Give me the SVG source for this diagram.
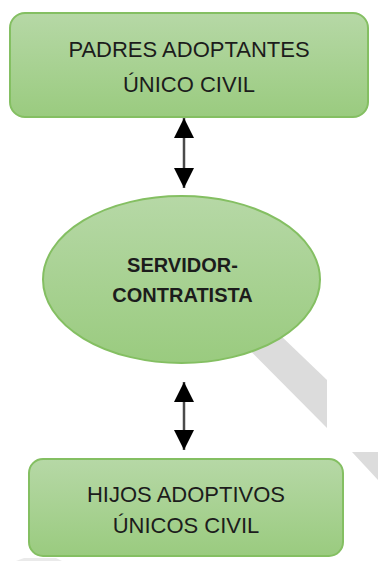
<svg xmlns="http://www.w3.org/2000/svg" width="378" height="561" viewBox="0 0 378 561">
  <defs>
    <linearGradient id="g" x1="0" y1="0" x2="0" y2="1">
      <stop offset="0" stop-color="#b6d8a6"/>
      <stop offset="1" stop-color="#9acb7f"/>
    </linearGradient>
    <marker id="ah" markerUnits="userSpaceOnUse" markerWidth="20" markerHeight="20" viewBox="0 0 20 20" refX="20" refY="10" orient="auto-start-reverse">
      <path d="M0,0 L20,10 L0,20 Z" fill="#000"/>
    </marker>
    <style>
      .shape { fill: url(#g); stroke: #84bf62; stroke-width: 2; }
      .lbl { font-family: "Liberation Sans", Arial, sans-serif; font-size: 22px; fill: #1c1c1c; text-anchor: middle; }
      .bold { font-weight: bold; font-size: 20px; }
      .conn { stroke: #4a4a4a; stroke-width: 2.5; fill: none; marker-start: url(#ah); marker-end: url(#ah); }
      .wm { fill: #dcdcdc; }
    </style>
  </defs>
  <rect width="378" height="561" fill="#fff"/>
  <g id="watermark">
    <polygon class="wm" points="233,290 327,380 327,428 190,290"/>
    <polygon class="wm" points="352,452 378,452 378,480"/>
    <polygon class="wm" points="16,561 24,558 56,558 62,561" opacity="0.6"/>
  </g>
  <g id="connectors">
    <line class="conn" x1="184" y1="118" x2="184" y2="188"/>
    <line class="conn" x1="184" y1="382" x2="184" y2="450"/>
  </g>
  <g id="padres">
    <rect class="shape" x="10" y="13" width="358" height="104" rx="15" ry="15"/>
    <text class="lbl" x="189" y="57">PADRES ADOPTANTES</text>
    <text class="lbl" x="189" y="92">ÚNICO CIVIL</text>
  </g>
  <g id="servidor">
    <ellipse class="shape" cx="181.5" cy="279.5" rx="138.5" ry="83.5"/>
    <text class="lbl bold" x="182.5" y="272">SERVIDOR-</text>
    <text class="lbl bold" x="182.5" y="302">CONTRATISTA</text>
  </g>
  <g id="hijos">
    <rect class="shape" x="29" y="459" width="314" height="97" rx="14" ry="14"/>
    <text class="lbl" x="186" y="502">HIJOS ADOPTIVOS</text>
    <text class="lbl" x="186" y="533">ÚNICOS CIVIL</text>
  </g>
</svg>
